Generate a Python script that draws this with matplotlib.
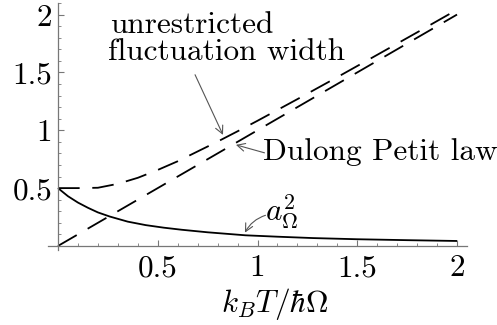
import matplotlib
matplotlib.use("Agg")
import matplotlib.pyplot as plt
from matplotlib.ticker import MultipleLocator, FixedLocator

plt.rcParams["font.family"] = "serif"
plt.rcParams["font.serif"] = ["cmr10"]
plt.rcParams["mathtext.fontset"] = "cm"
plt.rcParams["axes.formatter.use_mathtext"] = True
plt.rcParams["font.size"] = 22.5

# values
width_T = [0, 0.1, 0.2, 0.3, 0.4, 0.5, 0.6, 0.7, 0.8, 0.9, 1.0, 1.2, 1.4, 1.6, 1.8, 2.0]
width_val = [0.5, 0.5, 0.503, 0.537, 0.589, 0.657, 0.732, 0.817, 0.902, 0.991,
             1.082, 1.269, 1.459, 1.652, 1.846, 2.042]

dulong_T = [0, 2.0]
dulong_val = [0, 2.0]

a2_T = [0, 0.05, 0.1, 0.15, 0.2, 0.26, 0.35, 0.44, 0.53, 0.62, 0.75, 0.94,
        1.1, 1.28, 1.5, 1.75, 2.0]
a2_val = [0.5, 0.43, 0.375, 0.33, 0.29, 0.254, 0.21, 0.18, 0.158, 0.14, 0.118,
          0.092, 0.08, 0.068, 0.058, 0.05, 0.043]

x_ticks = [0.5, 1, 1.5, 2]
x_ticklabels = ["0.5", "1", "1.5", "2"]
y_ticks = [0.5, 1, 1.5, 2]
y_ticklabels = ["0.5", "1", "1.5", "2"]

fig = plt.figure(figsize=(4.97, 3.25), dpi=100)
ax = fig.add_axes([48 / 497, 75 / 325, 419 / 497, 247 / 325])

ax.plot(width_T, width_val, color="black", lw=1.3, dashes=(12, 7))
ax.plot(dulong_T, dulong_val, color="black", lw=1.3, dashes=(12, 7))
ax.plot(a2_T, a2_val, color="black", lw=1.3, solid_capstyle="butt")

ax.set_xlim(-0.05, 2.05)
ax.set_ylim(-0.035, 2.1)

for s in ["top", "right"]:
    ax.spines[s].set_visible(False)
for s in ["left", "bottom"]:
    ax.spines[s].set_position(("data", 0))
    ax.spines[s].set_color("#777777")
    ax.spines[s].set_linewidth(0.9)

ax.xaxis.set_major_locator(FixedLocator(x_ticks))
ax.set_xticklabels(x_ticklabels)
ax.yaxis.set_major_locator(FixedLocator(y_ticks))
ax.set_yticklabels(y_ticklabels)
ax.xaxis.set_minor_locator(MultipleLocator(0.1))
ax.yaxis.set_minor_locator(MultipleLocator(0.1))
ax.tick_params(which="major", direction="in", length=4, width=0.8, color="#777777")
ax.tick_params(which="minor", direction="in", length=2.2, width=0.6, color="#777777")
ax.tick_params(axis="x", which="major", pad=6)
ax.tick_params(axis="y", which="major", pad=4)

arrow = dict(arrowstyle="->", color="#555555", lw=0.8, shrinkA=0, shrinkB=0,
             mutation_scale=14)

# unrestricted fluctuation width
ax.text(0.26, 1.844, "unrestricted", ha="left", va="baseline")
ax.text(0.25, 1.61, "fluctuation width", ha="left", va="baseline")
ax.annotate("", xy=(0.827, 0.96), xytext=(0.687, 1.48), arrowprops=arrow)

# Dulong Petit law
ax.text(1.03, 0.81, "Dulong Petit law", ha="left", va="center", clip_on=False)
ax.annotate("", xy=(0.892, 0.874), xytext=(1.035, 0.805), arrowprops=arrow)

# a_Omega^2
ax.text(1.04, 0.29, r"$a_\Omega^2$", ha="left", va="center")
ax.annotate("", xy=(0.937, 0.115), xytext=(1.04, 0.265),
            arrowprops=dict(arrow, connectionstyle="arc3,rad=0.2"))

fig.text(275 / 497, 13 / 325, r"$k_B T/\hbar\Omega$", ha="center", va="baseline")

fig.savefig("out.png", dpi=100)
